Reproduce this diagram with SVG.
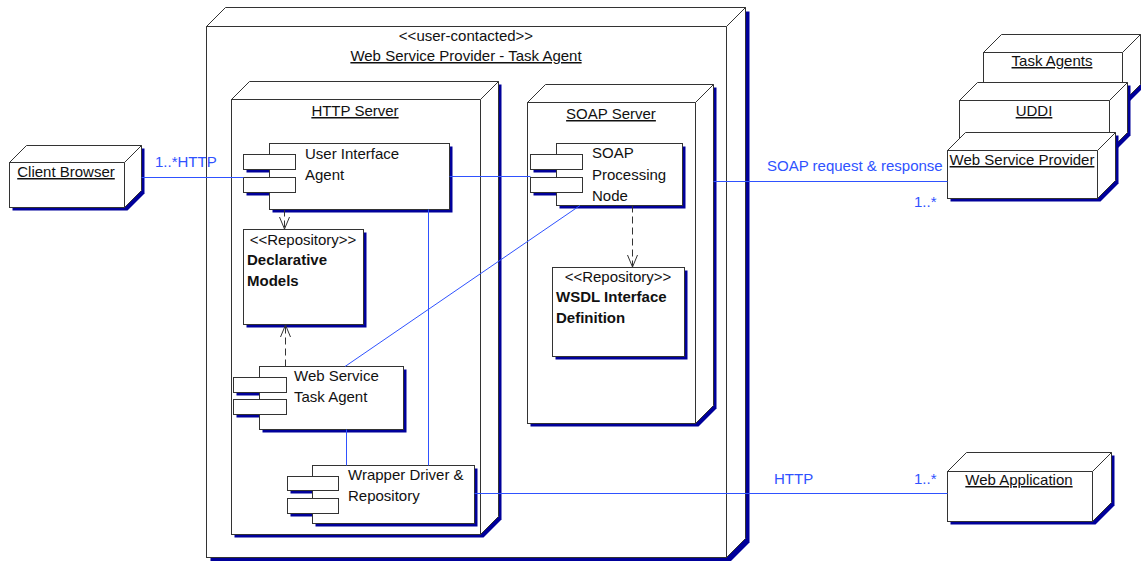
<svg xmlns="http://www.w3.org/2000/svg" width="1141" height="561" viewBox="0 0 1141 561">
<defs>
<style>
.sh{fill:#00009a;stroke:none}
.f{fill:#fff;stroke:#333;stroke-width:1}
.t{font-family:"Liberation Sans",Arial,sans-serif;font-size:15px;fill:#111}
.b{font-weight:bold}
.u{text-decoration:underline}
.c{text-anchor:middle}
.bl{font-family:"Liberation Sans",Arial,sans-serif;font-size:15px;fill:#2f52ff}
.ln{stroke:#2f52ff;stroke-width:1;fill:none}
.dep{stroke:#333;stroke-width:1;fill:none;stroke-dasharray:7 4}
</style>
<marker id="open" viewBox="0 0 12 10" refX="12" refY="5" markerWidth="12" markerHeight="10" markerUnits="userSpaceOnUse" orient="auto" overflow="visible">
<path d="M0,0 L12,5 L0,10" fill="none" stroke="#333" stroke-width="1"/>
</marker>
</defs>
<rect width="1141" height="561" fill="#fff"/>

<g id="web-service-provider-task-agent">
<polygon class="sh" points="210.5,30.5 229.5,11.5 749.5,11.5 749.5,542.5 730.5,561.5 210.5,561.5"/>
<rect class="f" x="206.5" y="26.5" width="520" height="531"/>
<polygon class="f" points="206.5,26.5 225.5,7.5 745.5,7.5 726.5,26.5"/>
<polygon class="f" points="726.5,26.5 745.5,7.5 745.5,538.5 726.5,557.5"/>
<text class="t c" x="466" y="41">&lt;&lt;user-contacted&gt;&gt;</text>
<text class="t c u" x="466" y="61">Web Service Provider - Task Agent</text>
</g>

<g id="http-server">
<polygon class="sh" points="234.5,102.5 252.5,84.5 501.5,84.5 501.5,519.5 483.5,537.5 234.5,537.5"/>
<rect class="f" x="231.5" y="99.5" width="249" height="435"/>
<polygon class="f" points="231.5,99.5 249.5,81.5 498.5,81.5 480.5,99.5"/>
<polygon class="f" points="480.5,99.5 498.5,81.5 498.5,516.5 480.5,534.5"/>
<text class="t c u" x="355" y="116">HTTP Server</text>
</g>

<g id="soap-server">
<polygon class="sh" points="530.5,105.5 548.5,87.5 716.5,87.5 716.5,408.5 698.5,426.5 530.5,426.5"/>
<rect class="f" x="527.5" y="102.5" width="168" height="321"/>
<polygon class="f" points="527.5,102.5 545.5,84.5 713.5,84.5 695.5,102.5"/>
<polygon class="f" points="695.5,102.5 713.5,84.5 713.5,405.5 695.5,423.5"/>
<text class="t c u" x="611" y="119">SOAP Server</text>
</g>

<g id="client-browser">
<polygon class="sh" points="12.5,165.5 29.5,148.5 144.5,148.5 144.5,193.5 127.5,210.5 12.5,210.5"/>
<rect class="f" x="9.5" y="162.5" width="115" height="45"/>
<polygon class="f" points="9.5,162.5 26.5,145.5 141.5,145.5 124.5,162.5"/>
<polygon class="f" points="124.5,162.5 141.5,145.5 141.5,190.5 124.5,207.5"/>
<text class="t c u" x="66" y="177">Client Browser</text>
</g>

<g id="task-agents">
<polygon class="sh" points="986.5,55.5 1004.5,37.5 1143.5,37.5 1143.5,87.5 1125.5,105.5 986.5,105.5"/>
<rect class="f" x="983.5" y="52.5" width="139" height="50"/>
<polygon class="f" points="983.5,52.5 1001.5,34.5 1140.5,34.5 1122.5,52.5"/>
<polygon class="f" points="1122.5,52.5 1140.5,34.5 1140.5,84.5 1122.5,102.5"/>
<text class="t c u" x="1052" y="66">Task Agents</text>
</g>

<g id="uddi">
<polygon class="sh" points="962.5,103.5 980.5,85.5 1130.5,85.5 1130.5,135.5 1112.5,153.5 962.5,153.5"/>
<rect class="f" x="959.5" y="100.5" width="150" height="50"/>
<polygon class="f" points="959.5,100.5 977.5,82.5 1127.5,82.5 1109.5,100.5"/>
<polygon class="f" points="1109.5,100.5 1127.5,82.5 1127.5,132.5 1109.5,150.5"/>
<text class="t c u" x="1034" y="116">UDDI</text>
</g>

<g id="web-service-provider">
<polygon class="sh" points="950.5,153.5 968.5,135.5 1118.5,135.5 1118.5,183.5 1100.5,201.5 950.5,201.5"/>
<rect class="f" x="947.5" y="150.5" width="150" height="48"/>
<polygon class="f" points="947.5,150.5 965.5,132.5 1115.5,132.5 1097.5,150.5"/>
<polygon class="f" points="1097.5,150.5 1115.5,132.5 1115.5,180.5 1097.5,198.5"/>
<text class="t c u" x="1022" y="165">Web Service Provider</text>
</g>

<g id="web-application">
<polygon class="sh" points="950.5,474.5 969.5,455.5 1114.5,455.5 1114.5,505.5 1095.5,524.5 950.5,524.5"/>
<rect class="f" x="947.5" y="471.5" width="145" height="50"/>
<polygon class="f" points="947.5,471.5 966.5,452.5 1111.5,452.5 1092.5,471.5"/>
<polygon class="f" points="1092.5,471.5 1111.5,452.5 1111.5,502.5 1092.5,521.5"/>
<text class="t c u" x="1019" y="485">Web Application</text>
</g>

<g id="user-interface-agent">
<rect class="sh" x="272.5" y="146.5" width="180" height="66"/>
<rect class="sh" x="246.5" y="157.5" width="52" height="15"/>
<rect class="sh" x="246.5" y="180.5" width="52" height="15"/>
<rect class="f" x="269.5" y="143.5" width="180" height="66"/>
<rect class="f" x="243.5" y="154.5" width="52" height="15"/>
<rect class="f" x="243.5" y="177.5" width="52" height="15"/>
<text class="t" x="305" y="159">User Interface</text>
<text class="t" x="305" y="180">Agent</text>
</g>

<g id="declarative-models">
<rect class="sh" x="246.5" y="232.5" width="120" height="95"/>
<rect class="f" x="243.5" y="229.5" width="120" height="95"/>
<text class="t c" x="303" y="245">&lt;&lt;Repository&gt;&gt;</text>
<text class="t b" x="247" y="265">Declarative</text>
<text class="t b" x="247" y="286">Models</text>
</g>

<g id="web-service-task-agent">
<rect class="sh" x="262.5" y="369.5" width="144" height="63"/>
<rect class="sh" x="236.5" y="380.5" width="53" height="15"/>
<rect class="sh" x="236.5" y="402.5" width="53" height="15"/>
<rect class="f" x="259.5" y="366.5" width="144" height="63"/>
<rect class="f" x="233.5" y="377.5" width="53" height="15"/>
<rect class="f" x="233.5" y="399.5" width="53" height="15"/>
<text class="t" x="294" y="381">Web Service</text>
<text class="t" x="294" y="402">Task Agent</text>
</g>

<g id="wrapper-driver-repository">
<rect class="sh" x="315.5" y="468.5" width="162" height="58"/>
<rect class="sh" x="290.5" y="479.5" width="51" height="14"/>
<rect class="sh" x="290.5" y="501.5" width="51" height="15"/>
<rect class="f" x="312.5" y="465.5" width="162" height="58"/>
<rect class="f" x="287.5" y="476.5" width="51" height="14"/>
<rect class="f" x="287.5" y="498.5" width="51" height="15"/>
<text class="t" x="348" y="480">Wrapper Driver &amp;</text>
<text class="t" x="348" y="501">Repository</text>
</g>

<g id="soap-processing-node">
<rect class="sh" x="559.5" y="146.5" width="126" height="62"/>
<rect class="sh" x="533.5" y="157.5" width="52" height="15"/>
<rect class="sh" x="533.5" y="180.5" width="52" height="15"/>
<rect class="f" x="556.5" y="143.5" width="126" height="62"/>
<rect class="f" x="530.5" y="154.5" width="52" height="15"/>
<rect class="f" x="530.5" y="177.5" width="52" height="15"/>
<text class="t" x="592" y="158">SOAP</text>
<text class="t" x="592" y="180">Processing</text>
<text class="t" x="592" y="201">Node</text>
</g>

<g id="wsdl-interface-definition">
<rect class="sh" x="555.5" y="270.5" width="132" height="89"/>
<rect class="f" x="552.5" y="267.5" width="132" height="89"/>
<text class="t c" x="618" y="282">&lt;&lt;Repository&gt;&gt;</text>
<text class="t b" x="556" y="302">WSDL Interface</text>
<text class="t b" x="556" y="323">Definition</text>
</g>

<g id="connectors">
<line class="ln" x1="141.5" y1="177.5" x2="243.5" y2="177.5"/>
<text class="bl" x="155" y="167">1..*HTTP</text>
<line class="ln" x1="449.5" y1="176.5" x2="530.5" y2="176.5"/>
<line class="ln" x1="713.5" y1="181.5" x2="947.5" y2="181.5"/>
<text class="bl" x="767" y="171">SOAP request &amp; response</text>
<text class="bl" x="914" y="207">1..*</text>
<line class="ln" x1="474.5" y1="493.5" x2="947.5" y2="493.5"/>
<text class="bl" x="774" y="484">HTTP</text>
<text class="bl" x="914" y="484">1..*</text>
<line class="ln" x1="345" y1="366.5" x2="580" y2="205.5"/>
<line class="ln" x1="346.5" y1="429.5" x2="346.5" y2="465.5"/>
<line class="ln" x1="428.5" y1="209.5" x2="428.5" y2="465.5"/>
<line class="dep" x1="284.5" y1="209.5" x2="284.5" y2="229" marker-end="url(#open)"/>
<line class="dep" x1="285.5" y1="366.5" x2="285.5" y2="325" marker-end="url(#open)"/>
<line class="dep" x1="632.5" y1="205.5" x2="632.5" y2="267" marker-end="url(#open)"/>
</g>
</svg>
